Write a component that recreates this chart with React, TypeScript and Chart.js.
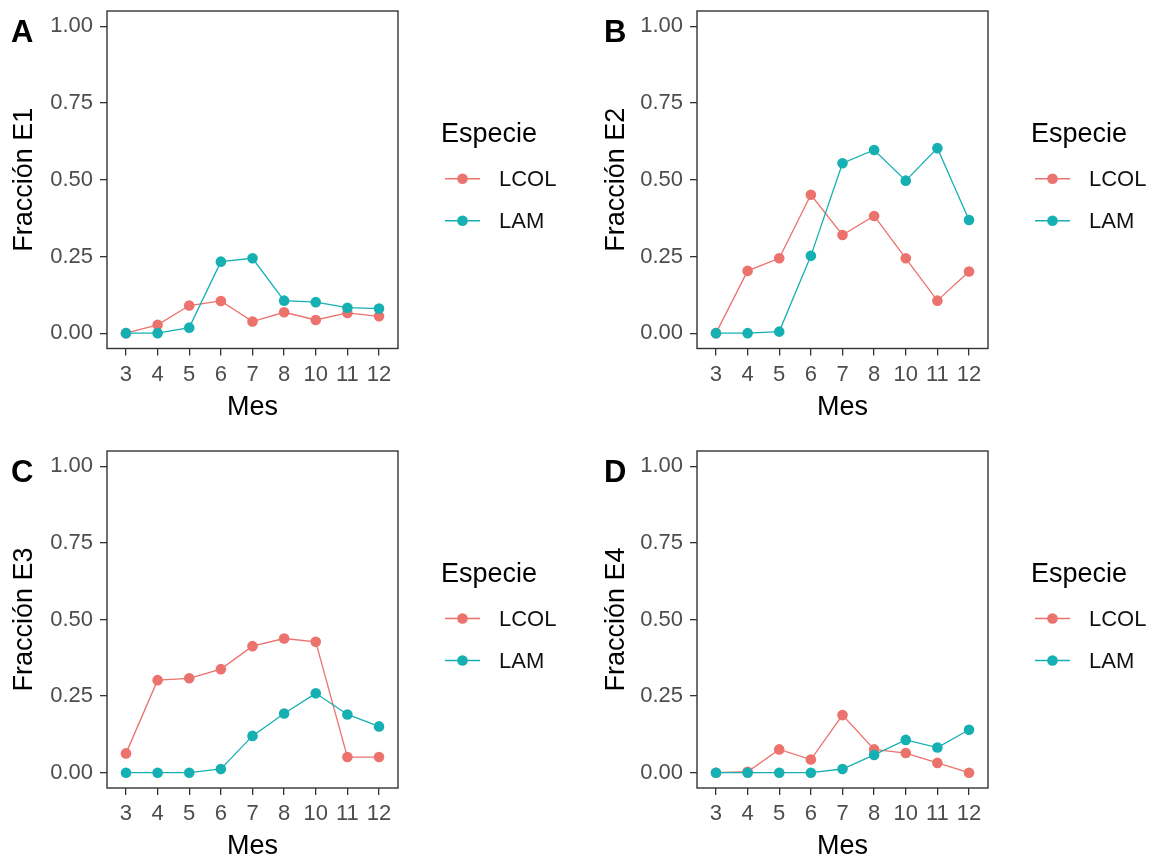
import React, { useEffect, useRef } from "react";
import { Chart, registerables } from "chart.js";

Chart.register(...registerables);

// Months sampled (discrete axis) and species
const months = ["3", "4", "5", "6", "7", "8", "10", "11", "12"];
const speciesNames = ["LCOL", "LAM"];
const yTickValues = [0, 0.25, 0.5, 0.75, 1.0];

// Fraction per month, stage E1..E4
const e1Lcol = [0, 0.027, 0.09, 0.105, 0.038, 0.068, 0.043, 0.066, 0.055];
const e1Lam = [0, 0, 0.018, 0.233, 0.244, 0.106, 0.101, 0.083, 0.08];
const e2Lcol = [0, 0.203, 0.244, 0.451, 0.32, 0.382, 0.244, 0.106, 0.201];
const e2Lam = [0, 0, 0.005, 0.252, 0.554, 0.597, 0.497, 0.603, 0.369];
const e3Lcol = [0.063, 0.302, 0.308, 0.338, 0.413, 0.438, 0.427, 0.051, 0.051];
const e3Lam = [0, 0, 0, 0.012, 0.12, 0.193, 0.259, 0.19, 0.151];
const e4Lcol = [0, 0.003, 0.076, 0.043, 0.188, 0.076, 0.064, 0.032, 0];
const e4Lam = [0, 0, 0, 0, 0.012, 0.058, 0.107, 0.082, 0.14];

const RED = "#EB726D";
const TEAL = "#16B0B2";
const FONT = "'Liberation Sans', Arial, Helvetica, sans-serif";
const TICK_SIZE = 22;
const TITLE_SIZE = 27;

type PanelDef = {
  tag: string;
  yTitle: string;
  lcol: number[];
  lam: number[];
  left: number;
  top: number;
  width: number;
  plotLeft: number;
  plotRight: number;
  plotTop: number;
  plotBottom: number;
  yTitleCenter: number;
  xTitleCenter: number;
  tagX: number;
};

const H = 430;

const panels: PanelDef[] = [
  { tag: "A", yTitle: "Fracción E1", lcol: e1Lcol, lam: e1Lam, left: 0, top: 0, width: 578,
    plotLeft: 107, plotRight: 398, plotTop: 11, plotBottom: 348.5, yTitleCenter: 25, xTitleCenter: 408, tagX: 11 },
  { tag: "B", yTitle: "Fracción E2", lcol: e2Lcol, lam: e2Lam, left: 580, top: 0, width: 577,
    plotLeft: 117, plotRight: 408, plotTop: 11, plotBottom: 348.5, yTitleCenter: 37, xTitleCenter: 408, tagX: 24 },
  { tag: "C", yTitle: "Fracción E3", lcol: e3Lcol, lam: e3Lam, left: 0, top: 430, width: 578,
    plotLeft: 107, plotRight: 398, plotTop: 21, plotBottom: 358, yTitleCenter: 25, xTitleCenter: 417, tagX: 11 },
  { tag: "D", yTitle: "Fracción E4", lcol: e4Lcol, lam: e4Lam, left: 580, top: 430, width: 577,
    plotLeft: 117, plotRight: 408, plotTop: 21, plotBottom: 358, yTitleCenter: 37, xTitleCenter: 417, tagX: 24 },
];

function PanelChart({ p }: { p: PanelDef }) {
  const ref = useRef<HTMLCanvasElement | null>(null);

  useEffect(() => {
    if (!ref.current) return;
    const colors = [RED, TEAL];
    const series = [p.lcol, p.lam];

    const decor = {
      id: "panelDecor",
      afterDraw(chart: any) {
        const { ctx, chartArea } = chart;
        const { left, top, right, bottom } = chartArea;
        ctx.save();
        // panel border
        ctx.strokeStyle = "#333333";
        ctx.lineWidth = 1.4;
        ctx.strokeRect(left, top, right - left, bottom - top);

        // panel tag
        ctx.fillStyle = "#000";
        ctx.font = `bold 31px ${FONT}`;
        ctx.textAlign = "left";
        ctx.textBaseline = "alphabetic";
        ctx.fillText(p.tag, p.tagX, top + 31);

        // legend
        const cy = (top + bottom) / 2;
        ctx.font = `${TITLE_SIZE}px ${FONT}`;
        ctx.fillStyle = "#000";
        ctx.fillText("Especie", right + 43, cy - 38);
        const itemY = [cy - 1, cy + 41];
        speciesNames.forEach((name, i) => {
          const y = itemY[i];
          ctx.strokeStyle = colors[i];
          ctx.lineWidth = 1.4;
          ctx.beginPath();
          ctx.moveTo(right + 47, y);
          ctx.lineTo(right + 82, y);
          ctx.stroke();
          ctx.fillStyle = colors[i];
          ctx.beginPath();
          ctx.arc(right + 64.5, y, 5.3, 0, Math.PI * 2);
          ctx.fill();
          ctx.fillStyle = "#111";
          ctx.font = `${TICK_SIZE}px ${FONT}`;
          ctx.textBaseline = "middle";
          ctx.fillText(name, right + 101, y + 1);
        });
        ctx.restore();
      },
    };

    const lineSets = series.map((vals, i) => ({
      label: speciesNames[i] + " línea",
      data: vals.map((v, k) => ({ x: k, y: v })),
      borderColor: colors[i],
      backgroundColor: colors[i],
      borderWidth: 1.3,
      pointRadius: 0,
      showLine: true,
      tension: 0,
      order: 3 - i,
    }));
    const pointSets = series.map((vals, i) => ({
      label: speciesNames[i],
      data: vals.map((v, k) => ({ x: k, y: v })),
      borderColor: colors[i],
      backgroundColor: colors[i],
      pointBackgroundColor: colors[i],
      pointBorderWidth: 0,
      pointRadius: 5.3,
      showLine: false,
      order: 1 - i,
    }));

    const gridOpts = {
      drawOnChartArea: false,
      drawTicks: true,
      tickLength: 7,
      color: "#333333",
      lineWidth: 1.3,
    };

    const chart = new Chart(ref.current, {
      type: "line",
      data: { datasets: [...lineSets, ...pointSets] as any },
      options: {
        responsive: false,
        maintainAspectRatio: false,
        animation: false,
        events: [],
        layout: {
          padding: { left: 0, top: p.plotTop, right: p.width - p.plotRight, bottom: 0 },
        },
        plugins: { legend: { display: false }, tooltip: { enabled: false } },
        scales: {
          x: {
            type: "linear",
            position: "bottom",
            min: -0.6,
            max: 8.6,
            afterBuildTicks: (s: any) => {
              s.ticks = months.map((_, i) => ({ value: i }));
            },
            afterFit: (s: any) => {
              s.height = H - p.plotBottom;
              s.paddingLeft = 0;
              s.paddingRight = 0;
            },
            ticks: {
              callback: (v: any) => months[Math.round(Number(v))],
              autoSkip: false,
              maxRotation: 0,
              minRotation: 0,
              padding: 6,
              color: "#4D4D4D",
              font: { family: FONT, size: TICK_SIZE },
            },
            grid: gridOpts,
            border: { display: false },
            title: {
              display: true,
              text: "Mes",
              color: "#000",
              font: { family: FONT, size: TITLE_SIZE, lineHeight: 1 },
              padding: { top: 0, bottom: H - p.xTitleCenter - TITLE_SIZE / 2 },
            },
          },
          y: {
            type: "linear",
            min: -0.05,
            max: 1.05,
            afterBuildTicks: (s: any) => {
              s.ticks = yTickValues.map((v) => ({ value: v }));
            },
            afterFit: (s: any) => {
              s.width = p.plotLeft;
              s.paddingTop = 0;
              s.paddingBottom = 0;
            },
            ticks: {
              callback: (v: any) => Number(v).toFixed(2),
              padding: 7,
              color: "#4D4D4D",
              font: { family: FONT, size: TICK_SIZE, lineHeight: 1 },
            },
            grid: gridOpts,
            border: { display: false },
            title: {
              display: true,
              text: p.yTitle,
              color: "#000",
              font: { family: FONT, size: TITLE_SIZE, lineHeight: 1 },
              padding: { top: p.yTitleCenter - TITLE_SIZE / 2, bottom: 0 },
            },
          },
        },
      } as any,
      plugins: [decor],
    });

    return () => chart.destroy();
  }, [p]);

  return (
    <canvas
      ref={ref}
      width={p.width}
      height={H}
      style={{ position: "absolute", left: p.left, top: p.top, width: p.width, height: H }}
    />
  );
}

export default function App() {
  return (
    <div
      style={{
        position: "absolute",
        left: 0,
        top: 0,
        width: 1157,
        height: 860,
        background: "#ffffff",
        overflow: "hidden",
      }}
    >
      {panels.map((p) => (
        <PanelChart key={p.tag} p={p} />
      ))}
    </div>
  );
}
